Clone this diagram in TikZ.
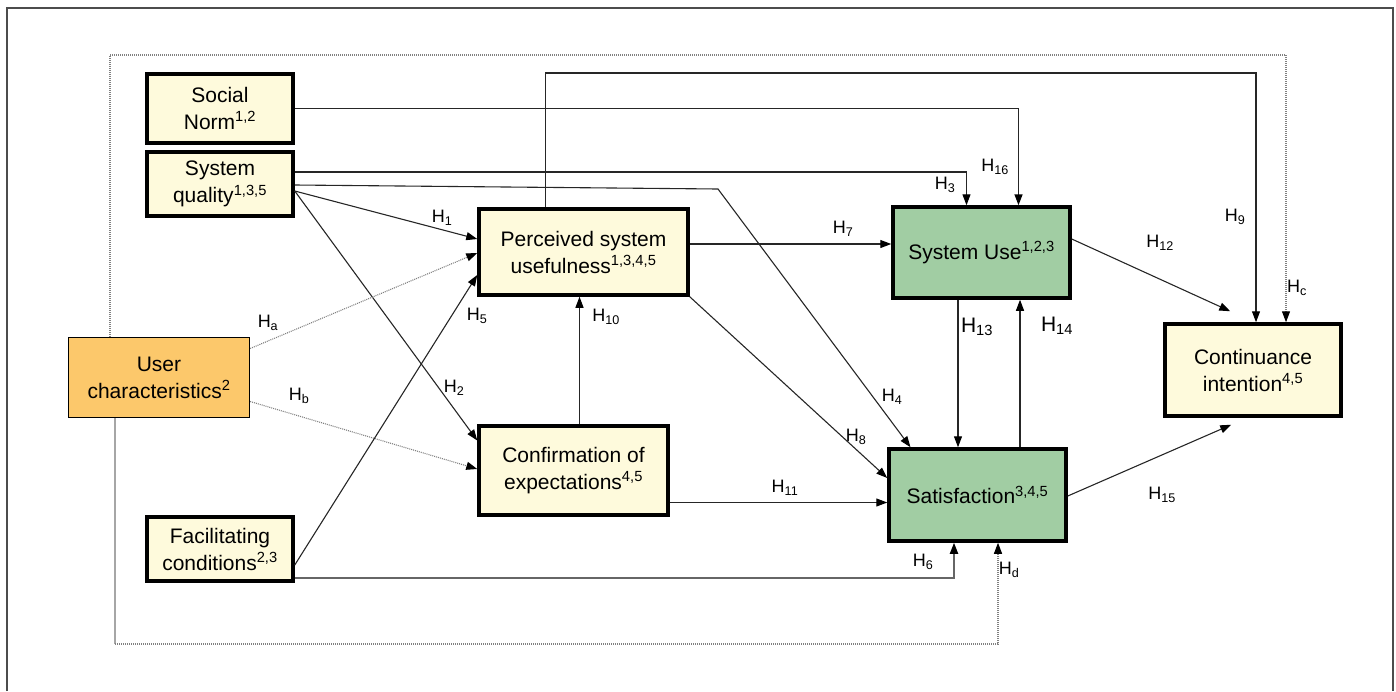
\documentclass[tikz,border=0pt]{standalone}
\usepackage{fontspec}
\setmainfont{Liberation Sans}
\usetikzlibrary{arrows.meta}
\definecolor{cream}{HTML}{FEFADC}
\definecolor{usegreen}{HTML}{A1CDA3}
\definecolor{userorange}{HTML}{FCC86B}

\begin{document}
\begin{tikzpicture}[x=1pt,y=-1pt]
        \tikzstyle{every node}=[inner sep=0pt]
        \tikzstyle{construct}=[draw, line width=3.5pt, fill=cream, align=center, font=\fontsize{21}{27}\selectfont]
        \tikzstyle{outcome}=[construct, fill=usegreen]
        \tikzstyle{hlab}=[font=\fontsize{18}{20}\selectfont]
        \tikzstyle{hbig}=[font=\fontsize{21}{23}\selectfont]
        \tikzstyle{link}=[-{Triangle[length=11pt,width=8pt,color=black]}, line width=1.1pt, draw=black!85]
        \tikzstyle{moderator}=[link, draw=black!50, dash pattern=on 1pt off 1pt]
        \useasboundingbox (0,0) rectangle (1396,691);
        \draw[line width=1.5pt, black!70] (7,691) -- (7,8) -- (1393,8) -- (1393,691);
        \node[construct, minimum width=146, minimum height=69] (social) at (220,108.5) {Social\\Norm\textsuperscript{1,2}};
        \node[construct, minimum width=146, minimum height=64] (quality) at (220,184) {System\\quality\textsuperscript{1,3,5}};
        \node[construct, line width=1.3pt, fill=userorange, minimum width=181, minimum height=80] (user) at (159,377.5) {User\\characteristics\textsuperscript{2}};
        \node[construct, minimum width=146, minimum height=64] (facil) at (220,549) {Facilitating\\conditions\textsuperscript{2,3}};
        \node[construct, minimum width=209, minimum height=86] (useful) at (583.5,252) {Perceived system\\usefulness\textsuperscript{1,3,4,5}};
        \node[construct, minimum width=189, minimum height=89] (confirm) at (573.5,470.5) {Confirmation of\\expectations\textsuperscript{4,5}};
        \node[outcome, minimum width=177, minimum height=91] (use) at (981.5,252.5) {System Use\textsuperscript{1,2,3}};
        \node[outcome, minimum width=177, minimum height=92] (satis) at (977.5,495) {Satisfaction\textsuperscript{3,4,5}};
        \node[construct, minimum width=176, minimum height=92] (cont) at (1253,370) {Continuance\\intention\textsuperscript{4,5}};
        \coordinate (qbend) at (718,189);
        \coordinate (h9top) at (1256,73);
        \coordinate (hctl) at (110,55);
        \coordinate (hctr) at (1286,55);
        \coordinate (hdl) at (115,644);
        \draw[link, line width=1.5pt] (social.east) -| ([xshift=37]use.north);
        \draw[link] ([yshift=12]quality.east) -| ([xshift=-15]use.north);
        \draw[link] ([yshift=-1]quality.east) -- (qbend) -- ([xshift=-67]satis.north);
        \draw[link] ([yshift=-7]quality.east) -- ([yshift=13]useful.west);
        \draw[link] ([yshift=-7]quality.east) -- ([yshift=30]confirm.west);
        \draw[moderator] ([yshift=29]user.east) -- ([yshift=-1]useful.west);
        \draw[moderator] ([yshift=-24]user.east) -- ([yshift=1.5]confirm.west);
        \draw[link] ([yshift=-16]facil.east) -- ([yshift=-23]useful.west);
        \draw[link, draw=black!60, line width=1.8pt] ([yshift=-29]facil.east) -| ([xshift=-23.5]satis.south);
        \draw[link] ([xshift=6]confirm.north) -- ([xshift=6]confirm.north |- useful.south);
        \draw[link] ([xshift=-38]useful.north) |- (h9top) -- ([xshift=3]cont.north);
        \draw[link] ([yshift=8]useful.east) -- ([yshift=8]useful.east -| use.west);
        \draw[link] (useful.south east) -- ([yshift=17]satis.west);
        \draw[link] ([yshift=-32]confirm.east) -- ([yshift=-32]confirm.east -| satis.west);
        \draw[link] ([xshift=-23.5]use.south) -- ([xshift=-23.5]use.south |- satis.north);
        \draw[link] ([xshift=42.5]satis.north) -- ([xshift=42.5]satis.north |- use.south);
        \draw[link] ([yshift=13.5]use.east) -- ([xshift=67,yshift=11]cont.north west);
        \draw[link] ([yshift=-1]satis.east) -- ([xshift=68,yshift=-7]cont.south west);
        \draw[moderator] ([xshift=-49]user.north) -- (hctl) -- (hctr) -- ([xshift=33]cont.north);
        \draw[line width=1.2pt, black!35] ([xshift=-44]user.south) -- (hdl);
        \draw[moderator] (hdl) -| ([xshift=20.5]satis.south);
        \node[hlab] (l1) at (442,218) {H\textsubscript{1}};
        \node[hlab] (l2) at (454,388) {H\textsubscript{2}};
        \node[hlab] (l3) at (945,185) {H\textsubscript{3}};
        \node[hlab] (l4) at (892,397) {H\textsubscript{4}};
        \node[hlab] (l5) at (477,316) {H\textsubscript{5}};
        \node[hlab] (l6) at (923,562) {H\textsubscript{6}};
        \node[hlab] (l7) at (843,229) {H\textsubscript{7}};
        \node[hlab] (l8) at (856,437) {H\textsubscript{8}};
        \node[hlab] (l9) at (1235,217) {H\textsubscript{9}};
        \node[hlab] (l10) at (606,317) {H\textsubscript{10}};
        \node[hlab] (l11) at (785,488) {H\textsubscript{11}};
        \node[hlab] (l12) at (1160,243) {H\textsubscript{12}};
        \node[hbig] (l13) at (977,327) {H\textsubscript{13}};
        \node[hbig] (l14) at (1057,326) {H\textsubscript{14}};
        \node[hlab] (l15) at (1162,495) {H\textsubscript{15}};
        \node[hlab] (l16) at (995,167) {H\textsubscript{16}};
        \node[hlab] (la) at (268,323) {H\textsubscript{a}};
        \node[hlab] (lb) at (299,396) {H\textsubscript{b}};
        \node[hlab] (lc) at (1297,288) {H\textsubscript{c}};
        \node[hlab] (ld) at (1009,570) {H\textsubscript{d}};
    \end{tikzpicture}
\end{document}
